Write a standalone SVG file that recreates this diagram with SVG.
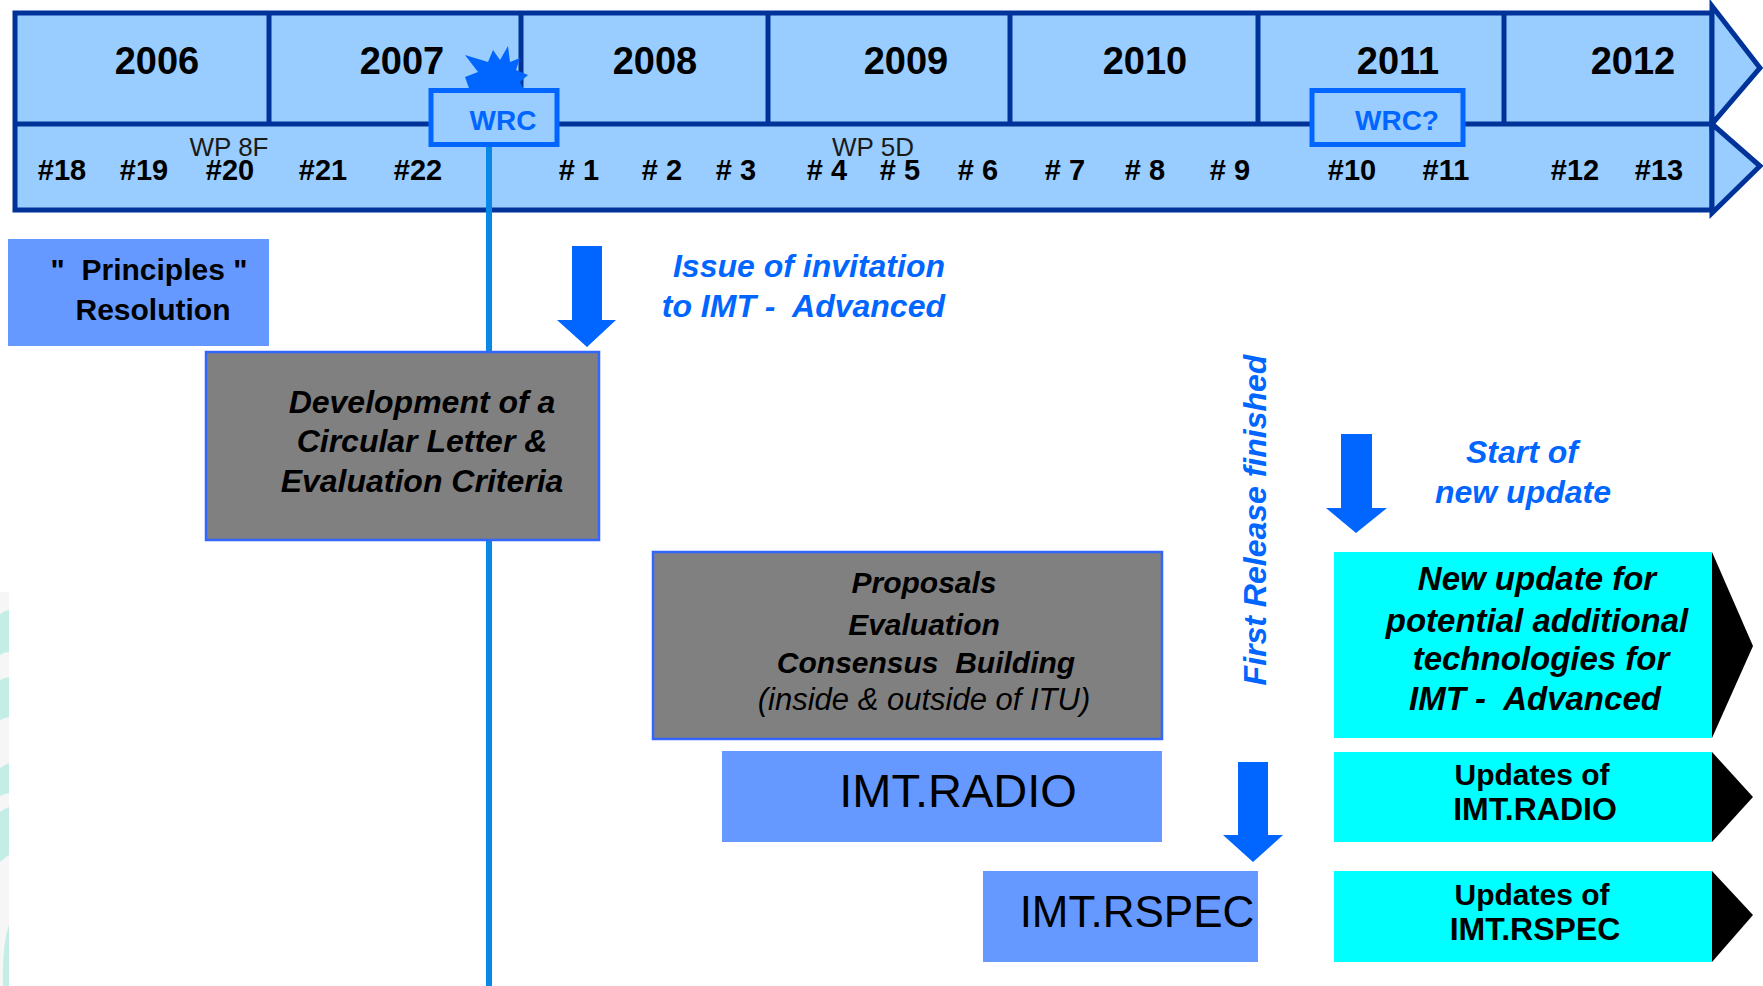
<svg xmlns="http://www.w3.org/2000/svg" width="1763" height="986" viewBox="0 0 1763 986">
<style>
.tl{fill:#99CCFF;stroke:#003399;stroke-width:5}
.dv{stroke:#003399;stroke-width:5}
.yr{font-family:"Liberation Sans",Arial,sans-serif;font-weight:bold;font-size:38px;text-anchor:middle;fill:#000}
.mt{font-family:"Liberation Sans",Arial,sans-serif;font-weight:bold;font-size:29px;text-anchor:middle;fill:#000}
.wp{font-family:"Liberation Sans",Arial,sans-serif;font-size:26px;text-anchor:middle;fill:#1a1a1a}
.wrc{fill:#99CCFF;stroke:#0066FF;stroke-width:5}
.wrct{font-family:"Liberation Sans",Arial,sans-serif;font-weight:bold;font-size:28px;text-anchor:middle;fill:#0066FF}
.blu{fill:#0066FF}
.bt{font-family:"Liberation Sans",Arial,sans-serif;font-weight:bold;font-style:italic;font-size:32px;fill:#0066FF}
.gray{fill:#808080;stroke:#3366FF;stroke-width:2.5}
.mid{fill:#6699FF}
.cy{fill:#00FFFF}
.blk{fill:#000}
.ci{font-family:"Liberation Sans",Arial,sans-serif;font-weight:bold;font-style:italic;text-anchor:middle;fill:#000}
.cb{font-family:"Liberation Sans",Arial,sans-serif;font-weight:bold;text-anchor:middle;fill:#000}
.cr{font-family:"Liberation Sans",Arial,sans-serif;text-anchor:middle;fill:#000}
.deco{fill:#C4EDE6}
</style>
<rect x="0" y="0" width="1763" height="986" fill="#FFFFFF"/>
<g id="decoration">
<rect x="0" y="592" width="9" height="394" fill="#F6F6F6"/>
<path class="deco" d="M0,614 Q4,611 9,610 L9,652 Q4,652 0,655 Z"/>
<path class="deco" d="M0,680 Q4,678 9,677 L9,717 Q4,718 0,720 Z"/>
<path class="deco" d="M0,768 Q4,765 9,763 L9,793 Q4,794 0,796 Z"/>
<path class="deco" d="M0,812 Q4,809 9,807 L9,855 Q4,858 0,862 Z"/>
<path class="deco" d="M9,925 Q2,945 3,986 L9,986 Z"/>
</g>
<g id="timeline">
<rect class="tl" x="15" y="13" width="1697" height="197"/>
<polygon class="tl" points="1712,6 1760,68 1712,124"/>
<polygon class="tl" points="1712,124 1760,166 1712,213"/>
<line class="dv" x1="15" y1="124" x2="1712" y2="124"/>
<line class="dv" x1="269" y1="13" x2="269" y2="124"/>
<line class="dv" x1="521" y1="13" x2="521" y2="124"/>
<line class="dv" x1="768" y1="13" x2="768" y2="124"/>
<line class="dv" x1="1010" y1="13" x2="1010" y2="124"/>
<line class="dv" x1="1258" y1="13" x2="1258" y2="124"/>
<line class="dv" x1="1504" y1="13" x2="1504" y2="124"/>
<text class="yr" x="157" y="74">2006</text>
<text class="yr" x="402" y="74">2007</text>
<text class="yr" x="655" y="74">2008</text>
<text class="yr" x="906" y="74">2009</text>
<text class="yr" x="1145" y="74">2010</text>
<text class="yr" x="1398" y="74">2011</text>
<text class="yr" x="1633" y="74">2012</text>
<text class="wp" x="229" y="156">WP 8F</text>
<text class="wp" x="873" y="156">WP 5D</text>
<g class="mt-row">
<text class="mt" x="62" y="180">#18</text>
<text class="mt" x="144" y="180">#19</text>
<text class="mt" x="230" y="180">#20</text>
<text class="mt" x="323" y="180">#21</text>
<text class="mt" x="418" y="180">#22</text>
<text class="mt" x="579" y="180" xml:space="preserve"># 1</text>
<text class="mt" x="662" y="180" xml:space="preserve"># 2</text>
<text class="mt" x="736" y="180" xml:space="preserve"># 3</text>
<text class="mt" x="827" y="180" xml:space="preserve"># 4</text>
<text class="mt" x="900" y="180" xml:space="preserve"># 5</text>
<text class="mt" x="978" y="180" xml:space="preserve"># 6</text>
<text class="mt" x="1065" y="180" xml:space="preserve"># 7</text>
<text class="mt" x="1145" y="180" xml:space="preserve"># 8</text>
<text class="mt" x="1230" y="180" xml:space="preserve"># 9</text>
<text class="mt" x="1352" y="180">#10</text>
<text class="mt" x="1446" y="180">#11</text>
<text class="mt" x="1575" y="180">#12</text>
<text class="mt" x="1659" y="180">#13</text>
</g>
</g>
<g id="connectors">
<line x1="489" y1="147" x2="489" y2="986" stroke="#0A88E6" stroke-width="6"/>
<polygon class="blu" points="572,246 602,246 602,320 616,320 587,347 557,320 572,320"/>
<polygon class="blu" points="1341,434 1372,434 1372,508 1387,508 1356,533 1326,508 1341,508"/>
<polygon class="blu" points="1238,762 1268,762 1268,835 1283,835 1253,862 1223,835 1238,835"/>
</g>
<g id="wrc">
<polygon class="blu" points="470,91 465,77 478,72 465,55 488,62 493,50 500,60 508,46 510,62 520,58 516,70 528,75 520,82 525,91"/>
<rect class="wrc" x="431" y="90.5" width="126" height="54"/>
<text class="wrct" x="503" y="130">WRC</text>
</g>
<g id="wrc2">
<rect class="wrc" x="1312" y="90.5" width="151" height="54"/>
<text class="wrct" x="1397" y="130">WRC?</text>
</g>
<g id="principles">
<rect class="mid" x="8" y="239" width="261" height="107"/>
<text class="cb" x="149" y="280" font-size="30" xml:space="preserve">"  Principles "</text>
<text class="cb" x="153" y="320" font-size="30">Resolution</text>
</g>
<g id="invitation">
<text class="bt" x="945" y="277" text-anchor="end">Issue of invitation</text>
<text class="bt" x="945" y="317" text-anchor="end" xml:space="preserve">to IMT -  Advanced</text>
</g>
<g id="development">
<rect class="gray" x="206" y="352" width="393" height="188"/>
<text class="ci" x="422" y="413" font-size="32">Development of a</text>
<text class="ci" x="422" y="452" font-size="32">Circular Letter &amp;</text>
<text class="ci" x="422" y="492" font-size="32">Evaluation Criteria</text>
</g>
<g id="proposals">
<rect class="gray" x="653" y="552" width="509" height="187"/>
<text class="ci" x="924" y="593" font-size="30">Proposals</text>
<text class="ci" x="924" y="635" font-size="30">Evaluation</text>
<text class="ci" x="926" y="673" font-size="30" xml:space="preserve">Consensus  Building</text>
<text class="cr" x="924" y="710" font-size="31" font-style="italic">(inside &amp; outside of ITU)</text>
</g>
<g id="imt-radio">
<rect class="mid" x="722" y="751" width="440" height="91"/>
<text class="cr" x="958" y="807" font-size="47">IMT.RADIO</text>
</g>
<g id="imt-rspec">
<rect class="mid" x="983" y="871" width="275" height="91"/>
<text class="cr" x="1137" y="927" font-size="44">IMT.RSPEC</text>
</g>
<g id="first-release">
<text class="bt" x="1266" y="520" text-anchor="middle" transform="rotate(-90 1266 520)">First Release finished</text>
</g>
<g id="start-update">
<text class="bt" x="1522" y="463" text-anchor="middle">Start of</text>
<text class="bt" x="1523" y="503" text-anchor="middle">new update</text>
</g>
<g id="new-update">
<rect class="cy" x="1334" y="552" width="378" height="186"/>
<polygon class="blk" points="1712,552 1753,646 1712,738"/>
<text class="ci" x="1537" y="590" font-size="33">New update for</text>
<text class="ci" x="1537" y="632" font-size="33">potential additional</text>
<text class="ci" x="1541" y="670" font-size="33">technologies for</text>
<text class="ci" x="1535" y="710" font-size="33" xml:space="preserve">IMT -  Advanced</text>
</g>
<g id="updates-radio">
<rect class="cy" x="1334" y="752" width="378" height="90"/>
<polygon class="blk" points="1712,752 1753,797 1712,842"/>
<text class="cb" x="1532" y="785" font-size="30">Updates of</text>
<text class="cb" x="1535" y="820" font-size="32">IMT.RADIO</text>
</g>
<g id="updates-rspec">
<rect class="cy" x="1334" y="871" width="378" height="91"/>
<polygon class="blk" points="1712,871 1753,915 1712,962"/>
<text class="cb" x="1532" y="905" font-size="30">Updates of</text>
<text class="cb" x="1535" y="940" font-size="32">IMT.RSPEC</text>
</g>
</svg>
